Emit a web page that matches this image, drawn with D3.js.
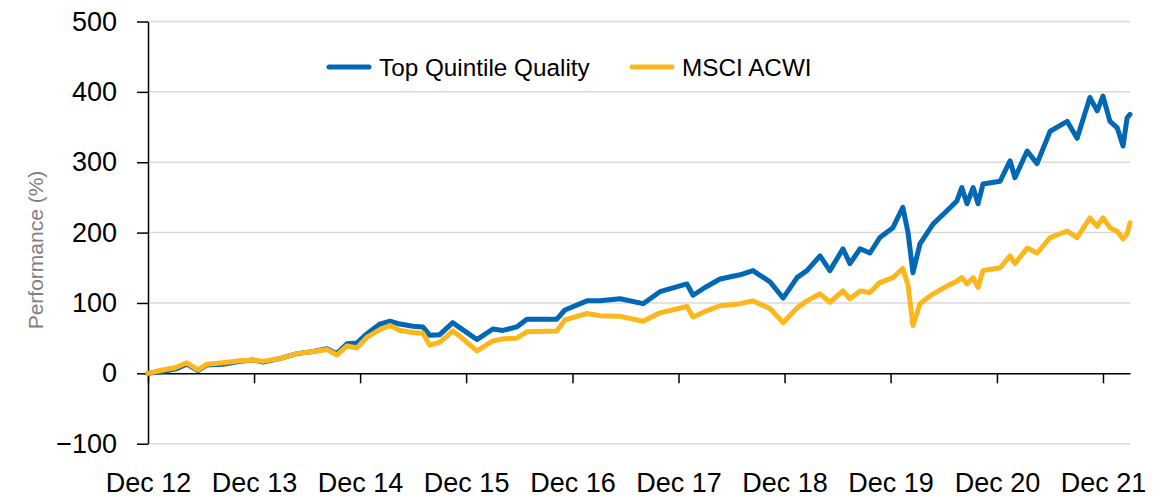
<!DOCTYPE html>
<html>
<head>
<meta charset="utf-8">
<script src="https://cdn.jsdelivr.net/npm/d3@7"></script>
<style>
  html, body { margin: 0; padding: 0; background: #fff; }
  #chart-perf { width: 1174px; height: 499px; }
  .axis text { font-family: "Liberation Sans", Arial, sans-serif; }
</style>
</head>
<body>
<div id="chart-perf"></div>
<script>
var DATES = [
  "2012-12-31","2013-02-10","2013-04-03","2013-05-14","2013-06-21","2013-07-22","2013-09-15","2013-11-13",
  "2013-12-27","2014-01-31","2014-03-30","2014-05-28","2014-07-22","2014-09-08","2014-10-12","2014-11-16",
  "2014-12-20","2015-01-23","2015-03-09","2015-04-13","2015-05-17","2015-07-01","2015-08-04","2015-08-28",
  "2015-10-01","2015-11-15","2015-12-09","2016-02-06","2016-04-01","2016-05-05","2016-06-22","2016-07-27",
  "2016-11-07","2016-12-05","2017-02-19","2017-04-05","2017-06-13","2017-08-31","2017-10-28","2018-01-29",
  "2018-02-19","2018-04-01","2018-05-23","2018-07-31","2018-09-13","2018-11-11","2018-12-26","2019-02-12",
  "2019-03-18","2019-05-02","2019-06-05","2019-07-20","2019-08-13","2019-09-17","2019-10-21","2019-11-24",
  "2020-01-08","2020-02-11","2020-02-29","2020-03-17","2020-04-10","2020-05-25","2020-07-12","2020-08-15",
  "2020-09-01","2020-09-19","2020-10-10","2020-10-27","2020-11-13","2021-01-11","2021-02-14","2021-03-03",
  "2021-04-14","2021-05-18","2021-07-02","2021-08-30","2021-10-03","2021-11-16","2021-12-11","2021-12-31",
  "2022-01-24","2022-02-18","2022-03-10","2022-03-24","2022-04-03"
];

var QUALITY = [
  0, 2, 6, 13, 4, 12, 13, 17,
  19, 16, 21, 28, 31, 35, 28, 42,
  43, 56, 70, 74, 70, 67, 66, 54,
  55, 72, 65, 48, 63, 61, 66, 77,
  77, 90, 103, 103, 106, 99, 116, 127,
  111, 122, 134, 140, 146, 130, 107, 136,
  146, 167, 146, 177, 156, 177, 171, 193,
  207, 236, 200, 143, 184, 212, 231, 245,
  264, 241, 264, 241, 269, 273, 302, 278,
  316, 298, 344, 358, 334, 392, 373, 394,
  358, 349, 323, 363, 368
];

var ACWI = [
  0, 4, 8, 15, 5, 13, 15, 18,
  19, 17, 21, 28, 31, 34, 26, 39,
  36, 51, 62, 68, 61, 58, 57, 40,
  44, 60, 53, 32, 46, 49, 50, 59,
  60, 76, 85, 82, 81, 74, 86, 95,
  80, 88, 96, 99, 103, 92, 72, 93,
  103, 113, 101, 117, 106, 117, 115, 129,
  136, 149, 125, 68, 99, 113, 124, 131,
  136, 127, 136, 122, 146, 150, 167, 156,
  178, 171, 193, 202, 193, 221, 209, 221,
  207, 202, 191, 198, 214
];

var Y_TICKS = [-100, 0, 100, 200, 300, 400, 500];
var X_TICK_DATES = ["2012-12-31","2013-12-31","2014-12-31","2015-12-31","2016-12-31",
                    "2017-12-31","2018-12-31","2019-12-31","2020-12-31","2021-12-31"];
var X_TICK_LABELS = ["Dec 12","Dec 13","Dec 14","Dec 15","Dec 16",
                     "Dec 17","Dec 18","Dec 19","Dec 20","Dec 21"];

var SERIES = [
  { name: "Top Quintile Quality", values: QUALITY, color: "#0068b5" },
  { name: "MSCI ACWI",            values: ACWI,    color: "#fdb71c" }
];

(function () {
  var W = 1174, H = 499;
  var margin = { top: 21.5, right: 44, bottom: 55, left: 148 };
  var iW = W - margin.left - margin.right;
  var iH = H - margin.top - margin.bottom - 0.3;

  var parse = d3.timeParse("%Y-%m-%d");
  var dates = DATES.map(parse);
  var tickDates = X_TICK_DATES.map(parse);

  var svg = d3.select("#chart-perf").append("svg")
      .attr("width", W).attr("height", H)
    .append("g")
      .attr("transform", "translate(" + margin.left + "," + margin.top + ")");

  var x = d3.scaleTime()
      .domain([dates[0], dates[dates.length - 1]])
      .range([0, iW]);

  var y = d3.scaleLinear()
      .domain([-100, 500])
      .range([iH, 0]);

  // gridlines
  svg.append("g").selectAll("line")
      .data(Y_TICKS.filter(function (v) { return v !== 0; }))
      .enter().append("line")
      .attr("x1", 0).attr("x2", iW)
      .attr("y1", y).attr("y2", y)
      .attr("stroke", "#d9d9d9")
      .attr("stroke-width", 1.5);

  // y axis
  var yAxis = svg.append("g").attr("class", "axis")
      .call(d3.axisLeft(y).tickValues(Y_TICKS).tickSize(11).tickPadding(20).tickSizeOuter(0));
  yAxis.selectAll("text").style("font-size", "27px").attr("fill", "#000");

  // x axis at zero, ticks only
  svg.append("g").attr("class", "axis")
      .attr("transform", "translate(0," + y(0) + ")")
      .call(d3.axisBottom(x).tickValues(tickDates).tickSize(10).tickSizeOuter(0).tickFormat(""));

  // x labels along the bottom
  var xLab = svg.append("g").attr("class", "axis")
      .attr("transform", "translate(0," + y(-100) + ")")
      .call(d3.axisBottom(x).tickValues(tickDates).tickSize(0).tickPadding(29)
        .tickFormat(function (d, i) { return X_TICK_LABELS[i]; }));
  xLab.select(".domain").remove();
  xLab.selectAll("text").style("font-size", "27px").attr("fill", "#000");

  svg.selectAll(".axis .domain, .axis line")
      .attr("stroke", "#000")
      .attr("stroke-width", 1.5);

  // axis title
  svg.append("text")
      .attr("transform", "rotate(-90)")
      .attr("x", -(250 - margin.top)).attr("y", -105)
      .attr("text-anchor", "middle")
      .style("font-family", "'Liberation Sans', Arial, sans-serif")
      .style("font-size", "21px")
      .attr("fill", "#808080")
      .text("Performance (%)");

  // lines
  var line = d3.line()
      .x(function (d, i) { return x(dates[i]); })
      .y(function (d) { return y(d); });

  SERIES.forEach(function (s) {
    svg.append("path")
        .datum(s.values)
        .attr("d", line)
        .attr("fill", "none")
        .attr("stroke", s.color)
        .attr("stroke-width", 5)
        .attr("stroke-linejoin", "round")
        .attr("stroke-linecap", "round");
  });

  // legend
  var legendX = [179, 482];
  var legend = svg.append("g").attr("transform", "translate(0," + (67 - margin.top) + ")");
  SERIES.forEach(function (s, i) {
    var g = legend.append("g").attr("transform", "translate(" + legendX[i] + ",0)");
    g.append("line")
        .attr("x1", 2).attr("x2", 42)
        .attr("stroke", s.color).attr("stroke-width", 5)
        .attr("stroke-linecap", "round");
    g.append("text")
        .attr("x", 52).attr("y", 9)
        .style("font-family", "'Liberation Sans', Arial, sans-serif")
        .style("font-size", "24.3px")
        .attr("fill", "#000")
        .text(s.name);
  });
}());
</script>
</body>
</html>
